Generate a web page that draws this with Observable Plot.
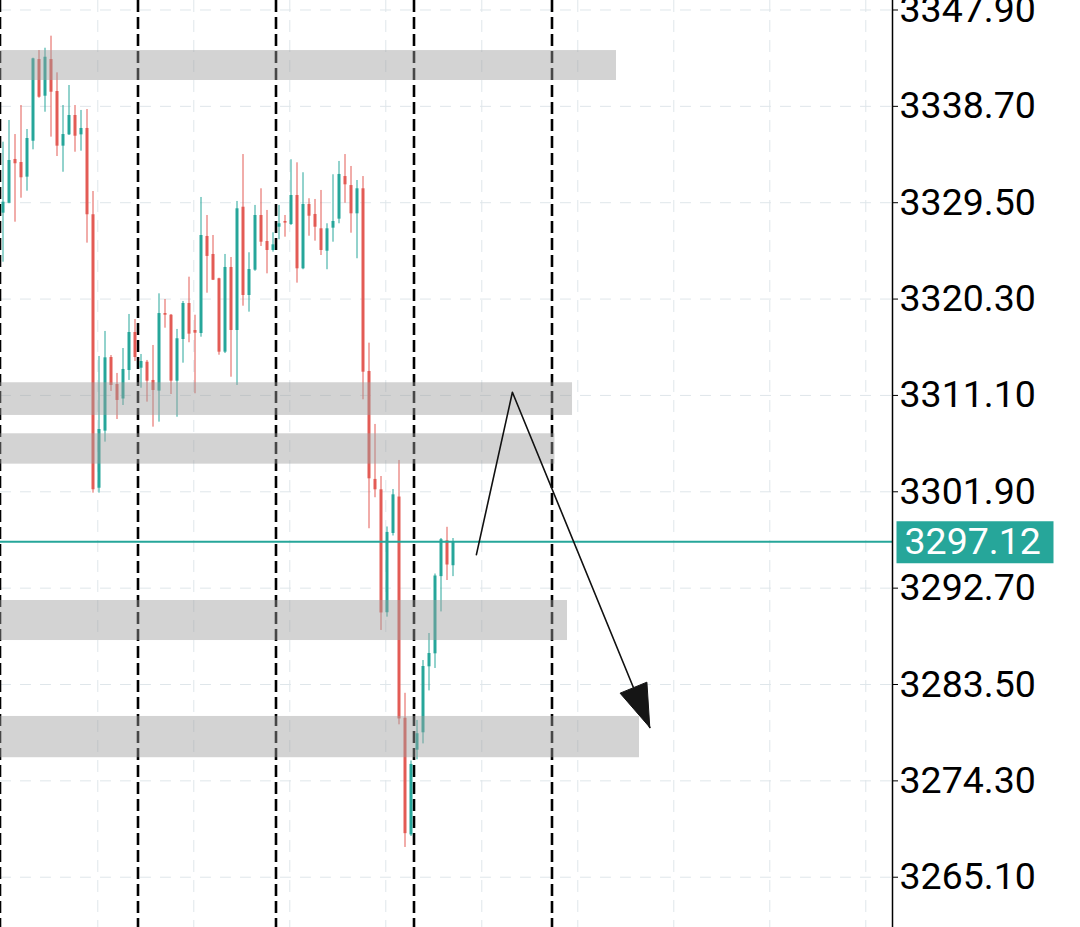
<!DOCTYPE html>
<html><head><meta charset="utf-8">
<script src="https://cdn.jsdelivr.net/npm/d3@7"></script>
<script src="https://cdn.jsdelivr.net/npm/@observablehq/plot@0.6"></script>
<style>html,body{margin:0;padding:0;background:#fff;overflow:hidden}#chart svg{display:block}</style>
</head><body><div id="chart"></div>
<script>
// ---- data (prices) ----
const opens = [3328.50,3329.45,3333.63,3333.34,3331.94,3335.37,3343.17,3339.67,3343.17,3340.12,
3334.90,3335.98,3337.83,3335.98,3336.59,3328.35,3302.24,3307.69,3314.72,3312.15,
3310.76,3313.48,3317.11,3313.70,3314.27,3312.53,3311.51,3318.92,3318.76,3312.46,
3316.44,3319.88,3317.30,3317.01,3326.28,3324.56,3322.24,3315.23,3323.32,3317.30,
3329.07,3320.64,3323.06,3328.28,3325.80,3324.94,3327.16,3327.71,3327.42,3330.19,
3323.19,3329.33,3328.38,3327.01,3324.87,3327.07,3327.93,3332.00,3331.14,3328.44,
3330.83,3313.39,3303.08,3302.09,3290.35,3297.92,3301.40,3280.28,3269.14,3277.23,
3278.89,3285.19,3286.43,3293.80,3297.22,3294.84];
const highs = [3335.28,3337.35,3336.01,3338.78,3336.49,3343.30,3344.03,3344.25,3345.40,3341.90,
3338.78,3340.69,3338.78,3338.31,3338.40,3330.57,3314.82,3317.21,3314.91,3313.20,
3315.58,3318.83,3318.35,3315.01,3314.44,3315.87,3320.80,3320.26,3318.83,3317.40,
3320.07,3322.39,3318.76,3330.00,3328.28,3326.37,3322.29,3324.56,3324.27,3329.62,
3334.10,3324.72,3329.24,3330.83,3328.76,3326.63,3329.24,3328.28,3333.60,3333.31,
3332.36,3329.88,3329.81,3330.67,3327.49,3332.17,3333.44,3334.10,3332.96,3331.62,
3332.00,3316.09,3308.33,3303.36,3298.54,3302.12,3304.89,3282.66,3276.20,3280.07,
3285.79,3288.37,3294.05,3297.44,3298.51,3297.44];
const lows = [3323.82,3329.40,3327.64,3329.93,3330.60,3334.55,3339.48,3338.14,3335.76,3333.91,
3332.41,3335.92,3334.32,3334.42,3325.64,3301.77,3301.77,3306.64,3311.48,3308.80,
3310.14,3312.53,3314.34,3311.79,3310.46,3308.07,3308.55,3317.52,3311.19,3309.02,
3314.18,3316.13,3311.26,3316.66,3320.86,3322.07,3314.94,3315.10,3312.84,3312.05,
3319.62,3319.05,3322.95,3325.32,3322.71,3324.78,3325.96,3326.21,3327.33,3321.82,
3323.10,3326.30,3325.83,3324.46,3323.10,3325.73,3327.49,3329.45,3326.59,3324.15,
3310.68,3298.37,3301.33,3288.66,3289.93,3297.68,3279.65,3267.94,3268.99,3276.31,
3277.83,3282.89,3285.03,3290.43,3293.43,3293.80];
const closes = [3329.55,3333.53,3333.22,3331.88,3335.63,3343.24,3339.57,3343.39,3340.05,3334.90,
3336.01,3337.83,3335.85,3336.59,3328.35,3302.09,3307.85,3314.69,3312.05,3310.62,
3313.58,3317.11,3314.72,3314.34,3312.46,3311.57,3318.92,3318.76,3312.46,3316.51,
3319.88,3316.95,3317.04,3326.37,3324.37,3322.10,3315.23,3323.32,3317.30,3328.92,
3320.64,3323.12,3328.28,3325.73,3324.94,3325.48,3327.49,3327.55,3330.19,3323.19,
3329.33,3328.21,3327.16,3324.94,3327.01,3327.71,3332.20,3331.21,3328.44,3330.83,
3313.32,3303.14,3302.09,3290.33,3298.02,3301.61,3280.21,3269.26,3275.87,3278.80,
3285.22,3286.46,3293.86,3297.32,3294.91,3297.12];
const yTicks = [3265.10,3274.30,3283.50,3292.70,3301.90,3311.10,3320.30,3329.50,3338.70,3347.90];
const sessionBreaks = [-0.5, 22.5, 45.5, 68.5, 91.5];   // bar index of the session separators
const timeGrid = [15.8, 31.8, 47.8, 63.8, 79.8, 95.8, 111.8, 127.8, 143.8];
const zoneTop = [3344.03, 3312.31, 3307.44, 3291.52, 3280.45];
const zoneBottom = [3341.17, 3309.19, 3304.54, 3287.70, 3276.51];
const zoneEnd = [102.25, 94.92, 92.0, 94.08, 106.08];   // bar index where each zone stops
const pathX = [78.9, 84.9, 107.8];
const pathY = [3295.9, 3311.4, 3279.4];
const lastPrice = 3297.12;

// ---- layout / style ----
const W = 1080, H = 927, MR = 188;
const xDomain = [-0.4167, 148.25];
const yDomain = [3260.30, 3348.807];
const TEAL = "#26a69a", RED = "#e35b55";
const FONT = "Roboto, 'Noto Sans', sans-serif";
const FS = 37.5;

const candles = opens.map((o, i) => ({i, o, h: highs[i], l: lows[i], c: closes[i], up: closes[i] >= o}));
const zones = zoneTop.map((t, i) => ({top: t, bottom: zoneBottom[i], end: zoneEnd[i]}));
const pathPts = pathX.map((x, i) => ({x, y: pathY[i]}));

// arrow head (filled triangle) computed in pixel space from the last path segment
const kx = (W - MR) / (xDomain[1] - xDomain[0]);
const ky = H / (yDomain[1] - yDomain[0]);
const T = pathPts[2], P = pathPts[1];
let dxp = (T.x - P.x) * kx, dyp = -(T.y - P.y) * ky;
const len = Math.hypot(dxp, dyp); dxp /= len; dyp /= len;
const headLen = 43, headHalf = 14.5;
const toData = (ox, oy) => ({x: T.x + ox / kx, y: T.y - oy / ky});
const head = [
  toData(0, 0),
  toData(-headLen * dxp - headHalf * dyp, -headLen * dyp + headHalf * dxp),
  toData(-headLen * dxp + headHalf * dyp, -headLen * dyp - headHalf * dxp),
  toData(0, 0)
];

const boxSymbol = {draw(ctx) { ctx.moveTo(-78.5, -21); ctx.lineTo(78.5, -21); ctx.lineTo(78.5, 21); ctx.lineTo(-78.5, 21); ctx.closePath(); }};

const chart = Plot.plot({
  width: W, height: H,
  marginLeft: 0, marginRight: MR, marginTop: 0, marginBottom: 0,
  x: {domain: xDomain, axis: null},
  y: {domain: yDomain, axis: null},
  style: {fontFamily: FONT, background: "#fff", overflow: "visible"},
  marks: [
    Plot.ruleY(yTicks, {stroke: "#dfe6ea", strokeDasharray: "11,9", strokeWidth: 1}),
    Plot.ruleX(timeGrid, {stroke: "#dfe6ea", strokeDasharray: "12,8", strokeWidth: 1}),
    Plot.ruleX(sessionBreaks, {stroke: "#000", strokeWidth: 2.6, strokeDasharray: "12,5"}),
    Plot.ruleX(candles, {x: "i", y1: "l", y2: "h", stroke: d => d.up ? TEAL : RED, strokeWidth: 1}),
    Plot.ruleX(candles, {x: "i", y1: "o", y2: "c", stroke: d => d.up ? TEAL : RED, strokeWidth: 3}),
    Plot.ruleY([lastPrice], {stroke: TEAL, strokeWidth: 2}),
    Plot.rect(zones, {x1: () => xDomain[0], x2: "end", y1: "bottom", y2: "top", fill: "#9e9e9e", fillOpacity: 0.45}),
    Plot.line(pathPts, {x: "x", y: "y", stroke: "#111", strokeWidth: 1.6}),
    Plot.line(head, {x: "x", y: "y", fill: "#151515", stroke: "#151515", strokeWidth: 1}),
    Plot.ruleX([xDomain[1]], {stroke: "#000", strokeWidth: 1.5}),
    Plot.axisY(yTicks, {anchor: "right", tickSize: 5, tickPadding: 2, tickFormat: d => d.toFixed(2), fontSize: FS, label: null}),
    Plot.dot([lastPrice], {x: () => xDomain[1], y: d => d, r: 1, symbol: boxSymbol, fill: TEAL, dx: 82.5, dy: 0.5}),
    Plot.text([lastPrice], {x: () => xDomain[1], y: d => d, text: d => d.toFixed(2), textAnchor: "start", dx: 12, fill: "#fff", fontSize: FS})
  ]
});
document.getElementById("chart").appendChild(chart);
</script>
</body></html>
